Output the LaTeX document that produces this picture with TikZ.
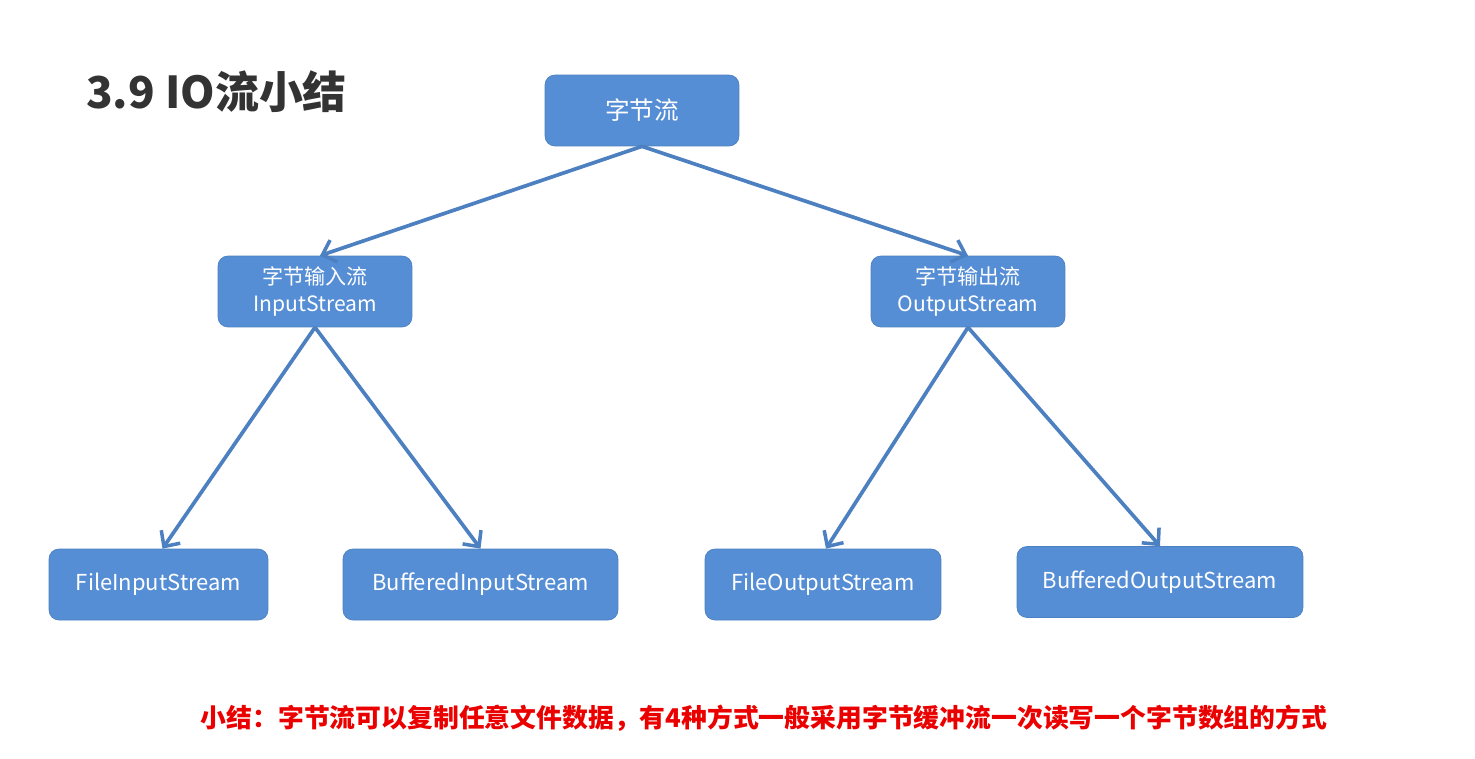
\documentclass[tikz,border=0pt]{standalone}
\usepackage{fontspec}
\setmainfont{Noto Sans CJK SC}
\usetikzlibrary{arrows.meta,positioning}
\definecolor{boxblue}{RGB}{85,142,213}
\definecolor{lineblue}{RGB}{76,128,192}
\definecolor{titlegray}{RGB}{51,51,51}
\definecolor{notered}{RGB}{235,0,0}
\tikzset{
  streambox/.style={draw=boxblue!90!black,line width=.4pt,fill=boxblue,rounded corners=.2cm,
    text=white,align=center,minimum height=1.42cm,inner sep=0pt,font=\fontsize{12.5}{16}\selectfont},
  subarrow/.style={draw=lineblue,line width=2.1pt,-{Straight Barb[length=2.4mm,width=4.6mm,line width=2pt]}}
}

\begin{document}
\begin{tikzpicture}[x=0.02cm,y=-0.02cm]
\useasboundingbox[fill=white] (0,0) rectangle (1475,758);
\node[anchor=west,text=titlegray,font=\fontsize{25}{30}\selectfont\bfseries] (title) at (80,92) {3.9 IO流小结};
\node[streambox,minimum width=3.88cm,font=\fontsize{14}{17}\selectfont] (bytes) at (642,110.5) {字节流};
\node[streambox,minimum width=3.88cm,font=\fontsize{12}{15.5}\selectfont] (instream) at (315,291.5) {字节输入流\\InputStream};
\node[streambox,minimum width=3.88cm,font=\fontsize{12}{15.5}\selectfont] (outstream) at (968,291.5) {字节输出流\\OutputStream};
\node[streambox,minimum width=4.38cm] (fis) at (158.5,584.5) {FileInputStream};
\node[streambox,minimum width=5.50cm] (bis) at (480.5,584.5) {BufferedInputStream};
\node[streambox,minimum width=4.72cm] (fos) at (823,584.5) {FileOutputStream};
\node[streambox,minimum width=5.72cm] (bos) at (1160,582) {BufferedOutputStream};
\draw[subarrow] (bytes.south) -- ([xshift=.1cm]instream.north);
\draw[subarrow] (bytes.south) -- (outstream.north);
\draw[subarrow] (instream.south) -- ([xshift=.08cm]fis.north);
\draw[subarrow] (instream.south) -- (bis.north);
\draw[subarrow] (outstream.south) -- ([xshift=.06cm]fos.north);
\draw[subarrow] (outstream.south) -- (bos.north);
\node[text=notered,font=\fontsize{14.7}{18}\selectfont\bfseries] (summary) at (764,718) {小结：字节流可以复制任意文件数据，有4种方式一般采用字节缓冲流一次读写一个字节数组的方式};
\end{tikzpicture}
\end{document}
